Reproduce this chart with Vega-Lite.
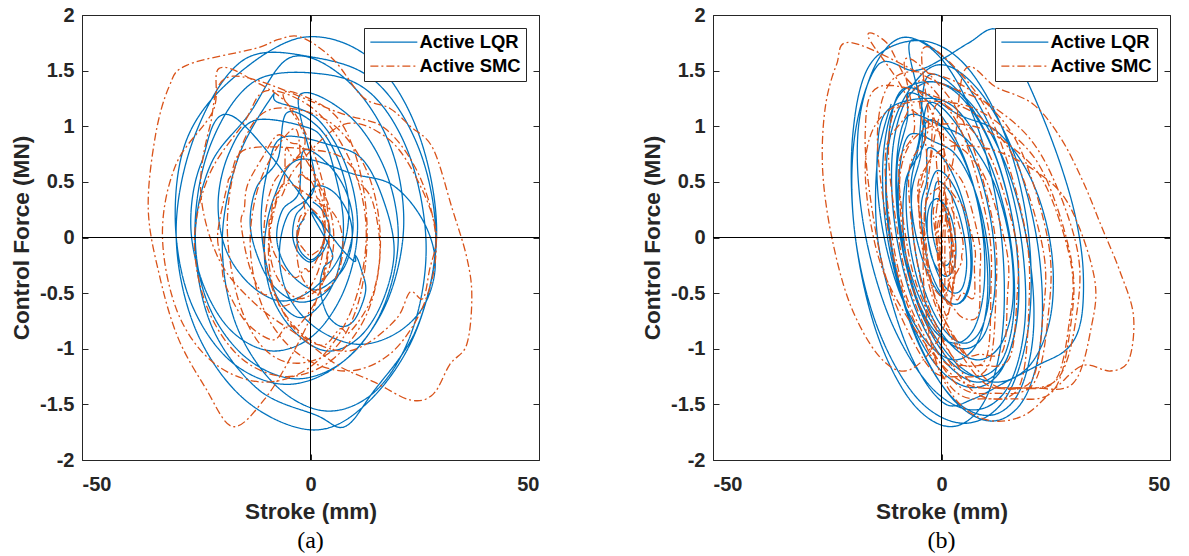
{
"$schema": "https://vega.github.io/schema/vega-lite/v6.json",
"background": "white",
"padding": {"left": 10, "top": 4, "right": 2, "bottom": 2},
"spacing": 101,
"config": {
  "view": {"stroke": "#262626", "strokeWidth": 1},
  "axis": {"labelFont": "Liberation Sans", "labelFontWeight": "bold", "labelFontSize": 20, "labelColor": "#262626", "titleFont": "Liberation Sans", "titleFontWeight": "bold", "titleFontSize": 22.6, "titleColor": "#262626", "grid": false, "domain": false, "tickColor": "#262626", "tickSize": -6, "labelPadding": 14}
},
"datasets": {
"a": [
{"s":"LQR","x":0.5,"y":0.32},{"s":"LQR","x":2.3,"y":0.26},{"s":"LQR","x":3.8,"y":0.15},{"s":"LQR","x":4.2,"y":0.03},{"s":"LQR","x":3.1,"y":-0.1},{"s":"LQR","x":1.6,"y":-0.18},{"s":"LQR","x":-0.3,"y":-0.22},{"s":"LQR","x":-2.4,"y":-0.15},{"s":"LQR","x":-3.6,"y":-0.05},{"s":"LQR","x":-3.9,"y":0.06},{"s":"LQR","x":-3.2,"y":0.2},{"s":"LQR","x":-1.6,"y":0.28},
{"s":"LQR","x":1.2,"y":0.46},{"s":"LQR","x":5.3,"y":0.4},{"s":"LQR","x":8.4,"y":0.2},{"s":"LQR","x":9.1,"y":-0.02},{"s":"LQR","x":7.6,"y":-0.25},{"s":"LQR","x":4.5,"y":-0.4},{"s":"LQR","x":0.8,"y":-0.47},{"s":"LQR","x":-3.3,"y":-0.37},{"s":"LQR","x":-6.2,"y":-0.2},{"s":"LQR","x":-7.4,"y":0.02},{"s":"LQR","x":-6.1,"y":0.25},{"s":"LQR","x":-2.6,"y":0.4},
{"s":"LQR","x":-1.5,"y":0.78},{"s":"LQR","x":3.8,"y":0.66},{"s":"LQR","x":7.9,"y":0.4},{"s":"LQR","x":9.3,"y":0.08},{"s":"LQR","x":7.2,"y":-0.25},{"s":"LQR","x":3.1,"y":-0.5},{"s":"LQR","x":-2.4,"y":-0.58},{"s":"LQR","x":-7.8,"y":-0.45},{"s":"LQR","x":-11.3,"y":-0.2},{"s":"LQR","x":-13.2,"y":0.12},{"s":"LQR","x":-11.8,"y":0.45},{"s":"LQR","x":-7.2,"y":0.7},
{"s":"LQR","x":-5.2,"y":1.12},{"s":"LQR","x":1.5,"y":1.0},{"s":"LQR","x":6.0,"y":0.7},{"s":"LQR","x":8.4,"y":0.28},{"s":"LQR","x":6.6,"y":-0.15},{"s":"LQR","x":0.6,"y":-0.46},{"s":"LQR","x":-6.4,"y":-0.57},{"s":"LQR","x":-13.3,"y":-0.42},{"s":"LQR","x":-18.6,"y":-0.1},{"s":"LQR","x":-20.2,"y":0.33},{"s":"LQR","x":-17.8,"y":0.76},{"s":"LQR","x":-12.4,"y":1.05},
{"s":"LQR","x":-1.6,"y":1.0},{"s":"LQR","x":2.8,"y":0.88},{"s":"LQR","x":5.5,"y":0.55},{"s":"LQR","x":7.2,"y":0.13},{"s":"LQR","x":6.0,"y":-0.3},{"s":"LQR","x":2.2,"y":-0.6},{"s":"LQR","x":-2.3,"y":-0.72},{"s":"LQR","x":-6.8,"y":-0.57},{"s":"LQR","x":-9.6,"y":-0.25},{"s":"LQR","x":-10.8,"y":0.17},{"s":"LQR","x":-9.4,"y":0.6},{"s":"LQR","x":-6.1,"y":0.9},
{"s":"LQR","x":4.5,"y":0.83},{"s":"LQR","x":11.4,"y":0.7},{"s":"LQR","x":16.0,"y":0.33},{"s":"LQR","x":18.3,"y":-0.12},{"s":"LQR","x":15.8,"y":-0.57},{"s":"LQR","x":10.6,"y":-0.9},{"s":"LQR","x":3.6,"y":-1.02},{"s":"LQR","x":-3.4,"y":-0.85},{"s":"LQR","x":-8.5,"y":-0.52},{"s":"LQR","x":-10.1,"y":-0.08},{"s":"LQR","x":-7.9,"y":0.37},{"s":"LQR","x":-2.6,"y":0.7},
{"s":"LQR","x":9.5,"y":0.57},{"s":"LQR","x":18.0,"y":0.47},{"s":"LQR","x":24.5,"y":0.16},{"s":"LQR","x":27.3,"y":-0.22},{"s":"LQR","x":25.0,"y":-0.6},{"s":"LQR","x":18.8,"y":-0.86},{"s":"LQR","x":10.4,"y":-0.96},{"s":"LQR","x":1.8,"y":-0.83},{"s":"LQR","x":-4.5,"y":-0.55},{"s":"LQR","x":-6.8,"y":-0.18},{"s":"LQR","x":-5.0,"y":0.2},{"s":"LQR","x":1.0,"y":0.48},
{"s":"LQR","x":-2.5,"y":1.27},{"s":"LQR","x":8.3,"y":1.1},{"s":"LQR","x":16.4,"y":0.6},{"s":"LQR","x":19.2,"y":-0.02},{"s":"LQR","x":15.7,"y":-0.65},{"s":"LQR","x":7.6,"y":-1.1},{"s":"LQR","x":-3.3,"y":-1.27},{"s":"LQR","x":-14.4,"y":-1.07},{"s":"LQR","x":-22.4,"y":-0.6},{"s":"LQR","x":-25.2,"y":0.03},{"s":"LQR","x":-21.8,"y":0.66},{"s":"LQR","x":-13.6,"y":1.1},
{"s":"LQR","x":-4.3,"y":1.62},{"s":"LQR","x":7.8,"y":1.42},{"s":"LQR","x":17.2,"y":0.85},{"s":"LQR","x":20.4,"y":0.12},{"s":"LQR","x":16.5,"y":-0.6},{"s":"LQR","x":7.0,"y":-1.12},{"s":"LQR","x":-5.4,"y":-1.32},{"s":"LQR","x":-17.8,"y":-1.1},{"s":"LQR","x":-26.5,"y":-0.55},{"s":"LQR","x":-29.6,"y":0.18},{"s":"LQR","x":-26.9,"y":0.9},{"s":"LQR","x":-17.0,"y":1.43},
{"s":"LQR","x":-1.5,"y":1.8},{"s":"LQR","x":13.4,"y":1.6},{"s":"LQR","x":23.5,"y":0.95},{"s":"LQR","x":27.6,"y":0.03},{"s":"LQR","x":23.0,"y":-0.85},{"s":"LQR","x":12.6,"y":-1.48},{"s":"LQR","x":0.5,"y":-1.73},{"s":"LQR","x":-14.6,"y":-1.45},{"s":"LQR","x":-25.4,"y":-0.8},{"s":"LQR","x":-29.4,"y":0.07},{"s":"LQR","x":-25.0,"y":0.95},{"s":"LQR","x":-14.5,"y":1.6},
{"s":"LQR","x":0.6,"y":1.62},{"s":"LQR","x":14.3,"y":1.4},{"s":"LQR","x":23.9,"y":0.78},{"s":"LQR","x":27.4,"y":-0.03},{"s":"LQR","x":23.2,"y":-0.82},{"s":"LQR","x":13.5,"y":-1.4},{"s":"LQR","x":7.5,"y":-1.7},{"s":"LQR","x":1.4,"y":-1.6},{"s":"LQR","x":-11.6,"y":-1.36},{"s":"LQR","x":-21.9,"y":-0.77},{"s":"LQR","x":-25.3,"y":0.03},{"s":"LQR","x":-22.0,"y":0.82},{"s":"LQR","x":-12.4,"y":1.4},
{"s":"LQR","x":2.5,"y":1.47},{"s":"LQR","x":13.6,"y":1.28},{"s":"LQR","x":21.8,"y":0.72},{"s":"LQR","x":25.3,"y":-0.07},{"s":"LQR","x":22.4,"y":-0.82},{"s":"LQR","x":14.5,"y":-1.37},{"s":"LQR","x":3.6,"y":-1.56},{"s":"LQR","x":-7.6,"y":-1.33},{"s":"LQR","x":-16.4,"y":-0.77},{"s":"LQR","x":-19.3,"y":-0.02},{"s":"LQR","x":-15.8,"y":0.72},{"s":"LQR","x":-8.4,"y":1.27},
{"s":"LQR","x":-7.4,"y":1.22},{"s":"LQR","x":1.4,"y":1.07},{"s":"LQR","x":7.9,"y":0.63},{"s":"LQR","x":10.3,"y":0.08},{"s":"LQR","x":7.4,"y":-0.47},{"s":"LQR","x":0.6,"y":-0.88},{"s":"LQR","x":-8.4,"y":-1.02},{"s":"LQR","x":-17.3,"y":-0.84},{"s":"LQR","x":-23.5,"y":-0.42},{"s":"LQR","x":-26.2,"y":0.12},{"s":"LQR","x":-23.9,"y":0.67},{"s":"LQR","x":-16.6,"y":1.08},
{"s":"LQR","x":7.2,"y":-0.12},{"s":"LQR","x":9.8,"y":-0.16},{"s":"LQR","x":11.2,"y":-0.3},{"s":"LQR","x":12.1,"y":-0.46},{"s":"LQR","x":11.0,"y":-0.63},{"s":"LQR","x":9.2,"y":-0.76},{"s":"LQR","x":6.8,"y":-0.8},{"s":"LQR","x":4.3,"y":-0.73},{"s":"LQR","x":2.8,"y":-0.6},{"s":"LQR","x":2.1,"y":-0.43},{"s":"LQR","x":2.9,"y":-0.27},{"s":"LQR","x":4.8,"y":-0.15},
{"s":"LQR","x":0.3,"y":0.21},{"s":"LQR","x":1.6,"y":0.17},{"s":"LQR","x":2.7,"y":0.1},{"s":"LQR","x":3.1,"y":0},{"s":"LQR","x":2.5,"y":-0.1},{"s":"LQR","x":1.4,"y":-0.17},{"s":"LQR","x":0,"y":-0.2},{"s":"LQR","x":-1.5,"y":-0.16},{"s":"LQR","x":-2.6,"y":-0.09},{"s":"LQR","x":-3,"y":0.01},{"s":"LQR","x":-2.4,"y":0.11},{"s":"LQR","x":-1.3,"y":0.17},
{"s":"SMC","x":0.2,"y":0.26},{"s":"SMC","x":1.7,"y":0.2},{"s":"SMC","x":2.8,"y":0.13},{"s":"SMC","x":3.2,"y":0.04},{"s":"SMC","x":2.4,"y":-0.08},{"s":"SMC","x":1.3,"y":-0.13},{"s":"SMC","x":-0.2,"y":-0.16},{"s":"SMC","x":-1.6,"y":-0.1},{"s":"SMC","x":-2.7,"y":-0.03},{"s":"SMC","x":-2.9,"y":0.08},{"s":"SMC","x":-2.2,"y":0.19},{"s":"SMC","x":-1.2,"y":0.24},
{"s":"SMC","x":-2.6,"y":0.55},{"s":"SMC","x":0.2,"y":0.5},{"s":"SMC","x":1.4,"y":0.36},{"s":"SMC","x":2.1,"y":0.32},{"s":"SMC","x":3.2,"y":0.08},{"s":"SMC","x":2.0,"y":-0.14},{"s":"SMC","x":-0.1,"y":-0.3},{"s":"SMC","x":-1.2,"y":-0.28},{"s":"SMC","x":-3.2,"y":-0.36},{"s":"SMC","x":-6.0,"y":-0.27},{"s":"SMC","x":-8.3,"y":-0.1},{"s":"SMC","x":-9.1,"y":0.12},{"s":"SMC","x":-8.6,"y":0.2},{"s":"SMC","x":-8.0,"y":0.35},{"s":"SMC","x":-5.8,"y":0.5},
{"s":"SMC","x":-5.4,"y":0.8},{"s":"SMC","x":-3.6,"y":0.7},{"s":"SMC","x":-1.4,"y":0.72},{"s":"SMC","x":1.8,"y":0.45},{"s":"SMC","x":3.2,"y":0.12},{"s":"SMC","x":2.0,"y":-0.26},{"s":"SMC","x":-1.2,"y":-0.5},{"s":"SMC","x":-6.3,"y":-0.62},{"s":"SMC","x":-8.0,"y":-0.5},{"s":"SMC","x":-10.6,"y":-0.5},{"s":"SMC","x":-13.5,"y":-0.24},{"s":"SMC","x":-15.2,"y":0.13},{"s":"SMC","x":-14.5,"y":0.25},{"s":"SMC","x":-13.8,"y":0.47},{"s":"SMC","x":-10.5,"y":0.72},
{"s":"SMC","x":-7.2,"y":0.92},{"s":"SMC","x":-4.2,"y":0.85},{"s":"SMC","x":-1.8,"y":0.8},{"s":"SMC","x":2.6,"y":0.42},{"s":"SMC","x":3.0,"y":0.3},{"s":"SMC","x":4.1,"y":-0.03},{"s":"SMC","x":2.2,"y":-0.47},{"s":"SMC","x":-2.3,"y":-0.78},{"s":"SMC","x":-5.3,"y":-0.8},{"s":"SMC","x":-8.3,"y":-0.92},{"s":"SMC","x":-14.1,"y":-0.76},{"s":"SMC","x":-18.6,"y":-0.43},{"s":"SMC","x":-19.5,"y":-0.2},{"s":"SMC","x":-20.3,"y":0.04},{"s":"SMC","x":-18.2,"y":0.47},{"s":"SMC","x":-17.5,"y":0.55},{"s":"SMC","x":-13.6,"y":0.8},
{"s":"SMC","x":3.5,"y":0.77},{"s":"SMC","x":9.2,"y":0.63},{"s":"SMC","x":10.3,"y":0.52},{"s":"SMC","x":13.6,"y":0.32},{"s":"SMC","x":15.2,"y":-0.12},{"s":"SMC","x":13.3,"y":-0.55},{"s":"SMC","x":8.6,"y":-0.85},{"s":"SMC","x":6.5,"y":-0.82},{"s":"SMC","x":2.6,"y":-0.97},{"s":"SMC","x":-3.3,"y":-0.83},{"s":"SMC","x":-7.8,"y":-0.5},{"s":"SMC","x":-9.2,"y":-0.08},{"s":"SMC","x":-7.4,"y":0.33},{"s":"SMC","x":-6.2,"y":0.38},{"s":"SMC","x":-2.8,"y":0.65},
{"s":"SMC","x":7.5,"y":1.02},{"s":"SMC","x":17.2,"y":0.88},{"s":"SMC","x":23.6,"y":0.5},{"s":"SMC","x":27.5,"y":0.05},{"s":"SMC","x":26,"y":-0.3},{"s":"SMC","x":24.6,"y":-0.55},{"s":"SMC","x":21.8,"y":-0.49},{"s":"SMC","x":19,"y":-0.72},{"s":"SMC","x":12.5,"y":-0.95},{"s":"SMC","x":6.6,"y":-1.02},{"s":"SMC","x":-1.5,"y":-0.88},{"s":"SMC","x":-7.8,"y":-0.52},{"s":"SMC","x":-10.2,"y":-0.02},{"s":"SMC","x":-8.2,"y":0.48},{"s":"SMC","x":-1.2,"y":0.85},
{"s":"SMC","x":-6,"y":1.28},{"s":"SMC","x":-0.8,"y":1.26},{"s":"SMC","x":6.4,"y":1.05},{"s":"SMC","x":10.8,"y":0.6},{"s":"SMC","x":12.4,"y":0.02},{"s":"SMC","x":10.5,"y":-0.58},{"s":"SMC","x":5.2,"y":-1.0},{"s":"SMC","x":-3.4,"y":-1.13},{"s":"SMC","x":-10.6,"y":-0.98},{"s":"SMC","x":-15.8,"y":-0.56},{"s":"SMC","x":-18.2,"y":0.07},{"s":"SMC","x":-16.4,"y":0.65},{"s":"SMC","x":-11.5,"y":1.08},
{"s":"SMC","x":-4.3,"y":1.16},{"s":"SMC","x":5.4,"y":1.0},{"s":"SMC","x":12.8,"y":0.55},{"s":"SMC","x":15.3,"y":-0.07},{"s":"SMC","x":12.5,"y":-0.67},{"s":"SMC","x":4.7,"y":-1.1},{"s":"SMC","x":-5.4,"y":-1.25},{"s":"SMC","x":-15.3,"y":-1.08},{"s":"SMC","x":-22.6,"y":-0.63},{"s":"SMC","x":-25.4,"y":-0.03},{"s":"SMC","x":-22.2,"y":0.56},{"s":"SMC","x":-14.6,"y":1.03},
{"s":"SMC","x":-9.5,"y":1.32},{"s":"SMC","x":1.4,"y":1.13},{"s":"SMC","x":9.3,"y":0.63},{"s":"SMC","x":12.2,"y":0.02},{"s":"SMC","x":9.0,"y":-0.65},{"s":"SMC","x":0.7,"y":-1.14},{"s":"SMC","x":-10.3,"y":-1.3},{"s":"SMC","x":-21.4,"y":-1.12},{"s":"SMC","x":-29.2,"y":-0.66},{"s":"SMC","x":-32.4,"y":0.03},{"s":"SMC","x":-29.4,"y":0.66},{"s":"SMC","x":-21.3,"y":1.14},
{"s":"SMC","x":-20,"y":1.52},{"s":"SMC","x":-12,"y":1.4},{"s":"SMC","x":-4,"y":1.15},{"s":"SMC","x":2,"y":0.6},{"s":"SMC","x":4,"y":0},{"s":"SMC","x":1,"y":-0.6},{"s":"SMC","x":-4,"y":-1.05},{"s":"SMC","x":-10,"y":-1.45},{"s":"SMC","x":-17,"y":-1.7},{"s":"SMC","x":-23,"y":-1.35},{"s":"SMC","x":-29,"y":-0.9},{"s":"SMC","x":-33,"y":-0.35},{"s":"SMC","x":-35.5,"y":0.25},{"s":"SMC","x":-34,"y":0.9},{"s":"SMC","x":-31,"y":1.35},{"s":"SMC","x":-27,"y":1.55},
{"s":"SMC","x":-12,"y":1.7},{"s":"SMC","x":-7,"y":1.78},{"s":"SMC","x":-2,"y":1.8},{"s":"SMC","x":5,"y":1.6},{"s":"SMC","x":11.5,"y":1.26},{"s":"SMC","x":17.4,"y":1.16},{"s":"SMC","x":21.8,"y":1.0},{"s":"SMC","x":26.8,"y":0.8},{"s":"SMC","x":31,"y":0.26},{"s":"SMC","x":34.2,"y":-0.18},{"s":"SMC","x":35.3,"y":-0.53},{"s":"SMC","x":34.2,"y":-0.96},{"s":"SMC","x":30.5,"y":-1.14},{"s":"SMC","x":26.8,"y":-1.41},{"s":"SMC","x":21.8,"y":-1.46},{"s":"SMC","x":14,"y":-1.3},{"s":"SMC","x":6,"y":-1.15},{"s":"SMC","x":-2,"y":-0.9},{"s":"SMC","x":-12,"y":-0.6},{"s":"SMC","x":-20,"y":-0.2},{"s":"SMC","x":-24,"y":0.4},{"s":"SMC","x":-22,"y":1.0},{"s":"SMC","x":-17,"y":1.45},
{"s":"SMC","x":6.4,"y":1.12},{"s":"SMC","x":16.6,"y":0.97},{"s":"SMC","x":24.2,"y":0.52},{"s":"SMC","x":27.5,"y":-0.07},{"s":"SMC","x":24.6,"y":-0.62},{"s":"SMC","x":17.3,"y":-1.05},{"s":"SMC","x":7.4,"y":-1.2},{"s":"SMC","x":-3.2,"y":-1.03},{"s":"SMC","x":-10.5,"y":-0.62},{"s":"SMC","x":-13.2,"y":-0.04},{"s":"SMC","x":-10.6,"y":0.55},{"s":"SMC","x":-3.5,"y":0.98},
{"s":"SMC","x":-1.7,"y":0.57},{"s":"SMC","x":1.6,"y":0.48},{"s":"SMC","x":4.2,"y":0.26},{"s":"SMC","x":5.1,"y":-0.02},{"s":"SMC","x":4.0,"y":-0.29},{"s":"SMC","x":1.4,"y":-0.47},{"s":"SMC","x":-2.3,"y":-0.55},{"s":"SMC","x":-5.6,"y":-0.46},{"s":"SMC","x":-8.3,"y":-0.26},{"s":"SMC","x":-9.1,"y":0.03},{"s":"SMC","x":-7.8,"y":0.3},{"s":"SMC","x":-5.2,"y":0.49},
{"s":"SMC","x":2.2,"y":0.3},{"s":"SMC","x":4.6,"y":0.24},{"s":"SMC","x":6.5,"y":0.1},{"s":"SMC","x":7.1,"y":-0.1},{"s":"SMC","x":6.2,"y":-0.3},{"s":"SMC","x":4.3,"y":-0.44},{"s":"SMC","x":1.8,"y":-0.5},{"s":"SMC","x":-0.6,"y":-0.44},{"s":"SMC","x":-2.4,"y":-0.3},{"s":"SMC","x":-3.0,"y":-0.1},{"s":"SMC","x":-2.3,"y":0.1},{"s":"SMC","x":-0.5,"y":0.25}
],
"b": [
{"s":"LQR","x":-1,"y":0.35},{"s":"LQR","x":0.6,"y":0.3},{"s":"LQR","x":2.1,"y":0.18},{"s":"LQR","x":3,"y":0},{"s":"LQR","x":3.1,"y":-0.18},{"s":"LQR","x":2.4,"y":-0.3},{"s":"LQR","x":1,"y":-0.35},{"s":"LQR","x":-0.6,"y":-0.3},{"s":"LQR","x":-2.1,"y":-0.18},{"s":"LQR","x":-3,"y":0},{"s":"LQR","x":-3.1,"y":0.18},{"s":"LQR","x":-2.4,"y":0.3},
{"s":"LQR","x":-1,"y":0.35},{"s":"LQR","x":0.1,"y":0.31},{"s":"LQR","x":1.2,"y":0.2},{"s":"LQR","x":2,"y":0.05},{"s":"LQR","x":2.2,"y":-0.1},{"s":"LQR","x":1.9,"y":-0.21},{"s":"LQR","x":1,"y":-0.25},{"s":"LQR","x":-0.1,"y":-0.21},{"s":"LQR","x":-1.2,"y":-0.1},{"s":"LQR","x":-2,"y":0.05},{"s":"LQR","x":-2.2,"y":0.2},{"s":"LQR","x":-1.9,"y":0.31},
{"s":"LQR","x":-1,"y":0.5},{"s":"LQR","x":1.3,"y":0.44},{"s":"LQR","x":3.5,"y":0.25},{"s":"LQR","x":5,"y":0},{"s":"LQR","x":5.5,"y":-0.25},{"s":"LQR","x":4.7,"y":-0.44},{"s":"LQR","x":3,"y":-0.5},{"s":"LQR","x":0.7,"y":-0.44},{"s":"LQR","x":-1.5,"y":-0.25},{"s":"LQR","x":-3,"y":0},{"s":"LQR","x":-3.5,"y":0.25},{"s":"LQR","x":-2.7,"y":0.44},
{"s":"LQR","x":-1,"y":0.6},{"s":"LQR","x":1.8,"y":0.52},{"s":"LQR","x":4.4,"y":0.3},{"s":"LQR","x":6,"y":0},{"s":"LQR","x":6.4,"y":-0.3},{"s":"LQR","x":5.2,"y":-0.52},{"s":"LQR","x":3,"y":-0.6},{"s":"LQR","x":0.2,"y":-0.52},{"s":"LQR","x":-2.4,"y":-0.3},{"s":"LQR","x":-4,"y":0},{"s":"LQR","x":-4.4,"y":0.3},{"s":"LQR","x":-3.2,"y":0.52},
{"s":"LQR","x":-3,"y":0.8},{"s":"LQR","x":0.4,"y":0.71},{"s":"LQR","x":3.7,"y":0.45},{"s":"LQR","x":6,"y":0.1},{"s":"LQR","x":6.7,"y":-0.25},{"s":"LQR","x":5.6,"y":-0.51},{"s":"LQR","x":3,"y":-0.6},{"s":"LQR","x":-0.4,"y":-0.51},{"s":"LQR","x":-3.7,"y":-0.25},{"s":"LQR","x":-6,"y":0.1},{"s":"LQR","x":-6.7,"y":0.45},{"s":"LQR","x":-5.6,"y":0.71},
{"s":"LQR","x":-3,"y":1.05},{"s":"LQR","x":1.9,"y":0.92},{"s":"LQR","x":6.3,"y":0.55},{"s":"LQR","x":9,"y":0.05},{"s":"LQR","x":9.3,"y":-0.45},{"s":"LQR","x":7.1,"y":-0.82},{"s":"LQR","x":3,"y":-0.95},{"s":"LQR","x":-1.9,"y":-0.82},{"s":"LQR","x":-6.3,"y":-0.45},{"s":"LQR","x":-9,"y":0.05},{"s":"LQR","x":-9.3,"y":0.55},{"s":"LQR","x":-7.1,"y":0.92},
{"s":"LQR","x":-1,"y":0.85},{"s":"LQR","x":3.4,"y":0.73},{"s":"LQR","x":7.5,"y":0.4},{"s":"LQR","x":10,"y":-0.05},{"s":"LQR","x":10.5,"y":-0.5},{"s":"LQR","x":8.6,"y":-0.83},{"s":"LQR","x":5,"y":-0.95},{"s":"LQR","x":0.6,"y":-0.83},{"s":"LQR","x":-3.5,"y":-0.5},{"s":"LQR","x":-6,"y":-0.05},{"s":"LQR","x":-6.5,"y":0.4},{"s":"LQR","x":-4.6,"y":0.73},
{"s":"LQR","x":-3,"y":1.2},{"s":"LQR","x":2.5,"y":1.06},{"s":"LQR","x":7.7,"y":0.65},{"s":"LQR","x":11,"y":0.1},{"s":"LQR","x":11.7,"y":-0.45},{"s":"LQR","x":9.5,"y":-0.86},{"s":"LQR","x":5,"y":-1.0},{"s":"LQR","x":-0.5,"y":-0.86},{"s":"LQR","x":-5.7,"y":-0.45},{"s":"LQR","x":-9,"y":0.1},{"s":"LQR","x":-9.7,"y":0.65},{"s":"LQR","x":-7.5,"y":1.06},
{"s":"LQR","x":-7,"y":1.3},{"s":"LQR","x":-0.9,"y":1.14},{"s":"LQR","x":5.1,"y":0.7},{"s":"LQR","x":9,"y":0.1},{"s":"LQR","x":10.1,"y":-0.5},{"s":"LQR","x":7.9,"y":-0.94},{"s":"LQR","x":3,"y":-1.1},{"s":"LQR","x":-3.2,"y":-0.94},{"s":"LQR","x":-9.1,"y":-0.5},{"s":"LQR","x":-13,"y":0.1},{"s":"LQR","x":-14.1,"y":0.7},{"s":"LQR","x":-11.9,"y":1.14},
{"s":"LQR","x":-2,"y":1.25},{"s":"LQR","x":4.7,"y":1.09},{"s":"LQR","x":10.9,"y":0.63},{"s":"LQR","x":15,"y":0},{"s":"LQR","x":15.9,"y":-0.63},{"s":"LQR","x":13.4,"y":-1.09},{"s":"LQR","x":8,"y":-1.25},{"s":"LQR","x":1.4,"y":-1.09},{"s":"LQR","x":-4.9,"y":-0.63},{"s":"LQR","x":-9,"y":0},{"s":"LQR","x":-9.9,"y":0.63},{"s":"LQR","x":-7.4,"y":1.09},
{"s":"LQR","x":0,"y":1.0},{"s":"LQR","x":6,"y":0.86},{"s":"LQR","x":11.6,"y":0.48},{"s":"LQR","x":15,"y":-0.05},{"s":"LQR","x":15.6,"y":-0.58},{"s":"LQR","x":13,"y":-0.96},{"s":"LQR","x":8,"y":-1.1},{"s":"LQR","x":2,"y":-0.96},{"s":"LQR","x":-3.6,"y":-0.58},{"s":"LQR","x":-7,"y":-0.05},{"s":"LQR","x":-7.6,"y":0.48},{"s":"LQR","x":-5,"y":0.86},
{"s":"LQR","x":-3,"y":1.45},{"s":"LQR","x":4.7,"y":1.27},{"s":"LQR","x":11.7,"y":0.75},{"s":"LQR","x":16,"y":0.05},{"s":"LQR","x":16.7,"y":-0.65},{"s":"LQR","x":13.4,"y":-1.17},{"s":"LQR","x":7,"y":-1.35},{"s":"LQR","x":-0.7,"y":-1.17},{"s":"LQR","x":-7.7,"y":-0.65},{"s":"LQR","x":-12,"y":0.05},{"s":"LQR","x":-12.7,"y":0.75},{"s":"LQR","x":-9.4,"y":1.27},
{"s":"LQR","x":-2,"y":1.4},{"s":"LQR","x":5.2,"y":1.22},{"s":"LQR","x":11.8,"y":0.73},{"s":"LQR","x":16,"y":0.05},{"s":"LQR","x":16.8,"y":-0.63},{"s":"LQR","x":13.9,"y":-1.12},{"s":"LQR","x":8,"y":-1.3},{"s":"LQR","x":0.9,"y":-1.12},{"s":"LQR","x":-5.8,"y":-0.63},{"s":"LQR","x":-10,"y":0.05},{"s":"LQR","x":-10.8,"y":0.73},{"s":"LQR","x":-7.9,"y":1.22},
{"s":"LQR","x":-2,"y":1.4},{"s":"LQR","x":6.3,"y":1.21},{"s":"LQR","x":14.1,"y":0.65},{"s":"LQR","x":19,"y":-0.1},{"s":"LQR","x":20.1,"y":-0.85},{"s":"LQR","x":16.7,"y":-1.41},{"s":"LQR","x":10,"y":-1.6},{"s":"LQR","x":1.7,"y":-1.41},{"s":"LQR","x":-6.1,"y":-0.85},{"s":"LQR","x":-11,"y":-0.1},{"s":"LQR","x":-12.1,"y":0.65},{"s":"LQR","x":-8.7,"y":1.21},
{"s":"LQR","x":-1,"y":1.55},{"s":"LQR","x":7.8,"y":1.34},{"s":"LQR","x":15.9,"y":0.75},{"s":"LQR","x":21,"y":-0.05},{"s":"LQR","x":21.9,"y":-0.85},{"s":"LQR","x":18.2,"y":-1.44},{"s":"LQR","x":11,"y":-1.65},{"s":"LQR","x":2.2,"y":-1.44},{"s":"LQR","x":-5.9,"y":-0.85},{"s":"LQR","x":-11,"y":-0.05},{"s":"LQR","x":-11.9,"y":0.75},{"s":"LQR","x":-8.2,"y":1.34},
{"s":"LQR","x":4,"y":1.1},{"s":"LQR","x":12.5,"y":0.94},{"s":"LQR","x":19.9,"y":0.5},{"s":"LQR","x":24,"y":-0.1},{"s":"LQR","x":23.9,"y":-0.7},{"s":"LQR","x":19.5,"y":-1.14},{"s":"LQR","x":12,"y":-1.3},{"s":"LQR","x":3.5,"y":-1.14},{"s":"LQR","x":-3.9,"y":-0.7},{"s":"LQR","x":-8,"y":-0.1},{"s":"LQR","x":-7.9,"y":0.5},{"s":"LQR","x":-3.5,"y":0.94},
{"s":"LQR","x":-7,"y":1.75},{"s":"LQR","x":2.4,"y":1.54},{"s":"LQR","x":11.3,"y":0.93},{"s":"LQR","x":17,"y":0.1},{"s":"LQR","x":18.3,"y":-0.73},{"s":"LQR","x":14.6,"y":-1.34},{"s":"LQR","x":7,"y":-1.55},{"s":"LQR","x":-2.4,"y":-1.34},{"s":"LQR","x":-11.3,"y":-0.73},{"s":"LQR","x":-17,"y":0.1},{"s":"LQR","x":-18.3,"y":0.93},{"s":"LQR","x":-14.6,"y":1.54},
{"s":"LQR","x":-8,"y":1.8},{"s":"LQR","x":0.7,"y":1.57},{"s":"LQR","x":8.4,"y":0.93},{"s":"LQR","x":13,"y":0.05},{"s":"LQR","x":13.4,"y":-0.83},{"s":"LQR","x":9.4,"y":-1.47},{"s":"LQR","x":2,"y":-1.7},{"s":"LQR","x":-6.7,"y":-1.47},{"s":"LQR","x":-14.4,"y":-0.83},{"s":"LQR","x":-19,"y":0.05},{"s":"LQR","x":-19.4,"y":0.93},{"s":"LQR","x":-15.4,"y":1.57},
{"s":"LQR","x":-5,"y":1.77},{"s":"LQR","x":5.2,"y":1.55},{"s":"LQR","x":14,"y":0.91},{"s":"LQR","x":19,"y":0.05},{"s":"LQR","x":19,"y":-0.81},{"s":"LQR","x":13.9,"y":-1.45},{"s":"LQR","x":5,"y":-1.67},{"s":"LQR","x":-5.2,"y":-1.45},{"s":"LQR","x":-14,"y":-0.81},{"s":"LQR","x":-19,"y":0.05},{"s":"LQR","x":-19,"y":0.91},{"s":"LQR","x":-13.9,"y":1.55},
{"s":"LQR","x":-6,"y":1.5},{"s":"LQR","x":0,"y":1.6},{"s":"LQR","x":6,"y":1.75},{"s":"LQR","x":12,"y":1.87},{"s":"LQR","x":17,"y":1.55},{"s":"LQR","x":22,"y":1.1},{"s":"LQR","x":26.5,"y":0.6},{"s":"LQR","x":29.5,"y":0.15},{"s":"LQR","x":31,"y":-0.3},{"s":"LQR","x":30.5,"y":-0.75},{"s":"LQR","x":27.5,"y":-1.0},{"s":"LQR","x":21,"y":-1.15},{"s":"LQR","x":14,"y":-1.3},{"s":"LQR","x":7,"y":-1.45},{"s":"LQR","x":1,"y":-1.5},{"s":"LQR","x":-5,"y":-1.2},{"s":"LQR","x":-10,"y":-0.7},{"s":"LQR","x":-14,"y":0},{"s":"LQR","x":-14,"y":0.7},{"s":"LQR","x":-11,"y":1.2},
{"s":"SMC","x":0,"y":0.3},{"s":"SMC","x":1.5,"y":0.2},{"s":"SMC","x":2.5,"y":-0.1},{"s":"SMC","x":1.8,"y":-0.4},{"s":"SMC","x":0.5,"y":-0.5},{"s":"SMC","x":-0.8,"y":-0.2},{"s":"SMC","x":-1.2,"y":0.2},{"s":"SMC","x":0.3,"y":0.45},{"s":"SMC","x":2,"y":0.1},{"s":"SMC","x":3,"y":-0.3},{"s":"SMC","x":1.5,"y":-0.6},{"s":"SMC","x":0,"y":-0.35},{"s":"SMC","x":-1,"y":0.05},{"s":"SMC","x":0.6,"y":0.25},{"s":"SMC","x":1.9,"y":-0.2},{"s":"SMC","x":0.8,"y":-0.55},
{"s":"SMC","x":1,"y":0.3},{"s":"SMC","x":2.6,"y":0.22},{"s":"SMC","x":3.4,"y":0.17},{"s":"SMC","x":4.7,"y":-0.04},{"s":"SMC","x":4.4,"y":-0.17},{"s":"SMC","x":4.4,"y":-0.22},{"s":"SMC","x":2.8,"y":-0.34},{"s":"SMC","x":1.9,"y":-0.22},{"s":"SMC","x":0.1,"y":-0.19},{"s":"SMC","x":-0.7,"y":0.05},{"s":"SMC","x":-0.4,"y":0.11},{"s":"SMC","x":0.2,"y":0.3},
{"s":"SMC","x":1,"y":0.45},{"s":"SMC","x":3.6,"y":0.33},{"s":"SMC","x":5.1,"y":0.24},{"s":"SMC","x":7.3,"y":-0.1},{"s":"SMC","x":7.2,"y":-0.26},{"s":"SMC","x":7.1,"y":-0.54},{"s":"SMC","x":4.6,"y":-0.5},{"s":"SMC","x":3.1,"y":-0.55},{"s":"SMC","x":0.3,"y":-0.25},{"s":"SMC","x":-0.8,"y":-0.1},{"s":"SMC","x":-1.8,"y":0.24},{"s":"SMC","x":-0.4,"y":0.35},
{"s":"SMC","x":-1,"y":0.75},{"s":"SMC","x":2.8,"y":0.6},{"s":"SMC","x":5.4,"y":0.42},{"s":"SMC","x":8.3,"y":-0.05},{"s":"SMC","x":8.4,"y":-0.34},{"s":"SMC","x":8,"y":-0.7},{"s":"SMC","x":4.6,"y":-0.72},{"s":"SMC","x":2,"y":-0.6},{"s":"SMC","x":-2,"y":-0.42},{"s":"SMC","x":-3.7,"y":0.05},{"s":"SMC","x":-5,"y":0.34},{"s":"SMC","x":-3.2,"y":0.7},
{"s":"SMC","x":-5,"y":1.4},{"s":"SMC","x":1.1,"y":1.18},{"s":"SMC","x":5.8,"y":0.8},{"s":"SMC","x":10.4,"y":0.05},{"s":"SMC","x":10.8,"y":-0.5},{"s":"SMC","x":9.8,"y":-1.08},{"s":"SMC","x":4.6,"y":-1.15},{"s":"SMC","x":-0.2,"y":-1.08},{"s":"SMC","x":-6.6,"y":-0.5},{"s":"SMC","x":-9.6,"y":0.05},{"s":"SMC","x":-11.6,"y":0.8},{"s":"SMC","x":-8.9,"y":1.18},
{"s":"SMC","x":1,"y":0.9},{"s":"SMC","x":6.5,"y":0.72},{"s":"SMC","x":10.4,"y":0.45},{"s":"SMC","x":14.4,"y":-0.15},{"s":"SMC","x":14.4,"y":-0.55},{"s":"SMC","x":13.4,"y":-1.02},{"s":"SMC","x":8.6,"y":-1.05},{"s":"SMC","x":4.4,"y":-1.02},{"s":"SMC","x":-1.2,"y":-0.55},{"s":"SMC","x":-3.6,"y":-0.15},{"s":"SMC","x":-5.2,"y":0.45},{"s":"SMC","x":-2.5,"y":0.72},
{"s":"SMC","x":-1,"y":1.2},{"s":"SMC","x":6.1,"y":0.99},{"s":"SMC","x":11.5,"y":0.65},{"s":"SMC","x":16.4,"y":-0.05},{"s":"SMC","x":16.5,"y":-0.55},{"s":"SMC","x":14.8,"y":-1.09},{"s":"SMC","x":8.6,"y":-1.15},{"s":"SMC","x":2.8,"y":-1.09},{"s":"SMC","x":-4.3,"y":-0.55},{"s":"SMC","x":-7.6,"y":-0.05},{"s":"SMC","x":-9.3,"y":0.65},{"s":"SMC","x":-5.9,"y":0.99},
{"s":"SMC","x":-8,"y":1.6},{"s":"SMC","x":-0.3,"y":1.36},{"s":"SMC","x":5.9,"y":0.93},{"s":"SMC","x":11.4,"y":0.1},{"s":"SMC","x":11.9,"y":-0.53},{"s":"SMC","x":10.2,"y":-1.16},{"s":"SMC","x":3.6,"y":-1.25},{"s":"SMC","x":-2.8,"y":-1.16},{"s":"SMC","x":-10.7,"y":-0.53},{"s":"SMC","x":-14.6,"y":0.1},{"s":"SMC","x":-16.7,"y":0.93},{"s":"SMC","x":-13.3,"y":1.36},
{"s":"SMC","x":3,"y":1.2},{"s":"SMC","x":11.1,"y":0.98},{"s":"SMC","x":17.2,"y":0.6},{"s":"SMC","x":22.4,"y":-0.15},{"s":"SMC","x":22.2,"y":-0.7},{"s":"SMC","x":19.8,"y":-1.28},{"s":"SMC","x":12.6,"y":-1.35},{"s":"SMC","x":5.8,"y":-1.28},{"s":"SMC","x":-2.1,"y":-0.7},{"s":"SMC","x":-5.6,"y":-0.15},{"s":"SMC","x":-7.1,"y":0.6},{"s":"SMC","x":-2.9,"y":0.98},
{"s":"SMC","x":-4,"y":1.7},{"s":"SMC","x":4.9,"y":1.44},{"s":"SMC","x":12.1,"y":0.95},{"s":"SMC","x":18.4,"y":0.05},{"s":"SMC","x":19.1,"y":-0.65},{"s":"SMC","x":17,"y":-1.34},{"s":"SMC","x":9.6,"y":-1.45},{"s":"SMC","x":2,"y":-1.34},{"s":"SMC","x":-7,"y":-0.65},{"s":"SMC","x":-11.6,"y":0.05},{"s":"SMC","x":-14,"y":0.95},{"s":"SMC","x":-10.2,"y":1.44},
{"s":"SMC","x":0,"y":1.45},{"s":"SMC","x":9.7,"y":1.21},{"s":"SMC","x":17.4,"y":0.78},{"s":"SMC","x":23.4,"y":-0.05},{"s":"SMC","x":23.4,"y":-0.68},{"s":"SMC","x":20.2,"y":-1.31},{"s":"SMC","x":11.6,"y":-1.4},{"s":"SMC","x":3.1,"y":-1.31},{"s":"SMC","x":-6.2,"y":-0.68},{"s":"SMC","x":-10.6,"y":-0.05},{"s":"SMC","x":-12.2,"y":0.78},{"s":"SMC","x":-7.3,"y":1.21},
{"s":"SMC","x":-16,"y":1.8},{"s":"SMC","x":-12,"y":1.75},{"s":"SMC","x":-8,"y":1.45},{"s":"SMC","x":-3,"y":1.2},{"s":"SMC","x":1,"y":0.7},{"s":"SMC","x":3,"y":0},{"s":"SMC","x":2,"y":-0.6},{"s":"SMC","x":-2,"y":-1.0},{"s":"SMC","x":-8,"y":-1.2},{"s":"SMC","x":-14,"y":-1.05},{"s":"SMC","x":-20,"y":-0.6},{"s":"SMC","x":-24,"y":0},{"s":"SMC","x":-26,"y":0.6},{"s":"SMC","x":-25.5,"y":1.15},{"s":"SMC","x":-23,"y":1.55},{"s":"SMC","x":-19.5,"y":1.75},
{"s":"SMC","x":-1,"y":1.4},{"s":"SMC","x":11.5,"y":1.17},{"s":"SMC","x":21.7,"y":0.75},{"s":"SMC","x":29.4,"y":-0.05},{"s":"SMC","x":29.7,"y":-0.65},{"s":"SMC","x":25.4,"y":-1.27},{"s":"SMC","x":14.6,"y":-1.35},{"s":"SMC","x":3.4,"y":-1.27},{"s":"SMC","x":-8.5,"y":-0.65},{"s":"SMC","x":-14.6,"y":-0.05},{"s":"SMC","x":-16.5,"y":0.75},{"s":"SMC","x":-10.5,"y":1.17},
{"s":"SMC","x":4,"y":1.2},{"s":"SMC","x":14.2,"y":0.97},{"s":"SMC","x":22.3,"y":0.58},{"s":"SMC","x":28.4,"y":-0.2},{"s":"SMC","x":28.3,"y":-0.78},{"s":"SMC","x":24.6,"y":-1.37},{"s":"SMC","x":15.6,"y":-1.45},{"s":"SMC","x":6.6,"y":-1.37},{"s":"SMC","x":-3,"y":-0.78},{"s":"SMC","x":-7.6,"y":-0.2},{"s":"SMC","x":-9,"y":0.58},{"s":"SMC","x":-3.8,"y":0.97},
{"s":"SMC","x":7,"y":1.0},{"s":"SMC","x":16.1,"y":0.79},{"s":"SMC","x":23,"y":0.45},{"s":"SMC","x":28.4,"y":-0.25},{"s":"SMC","x":28,"y":-0.75},{"s":"SMC","x":24.8,"y":-1.29},{"s":"SMC","x":16.6,"y":-1.35},{"s":"SMC","x":8.8,"y":-1.29},{"s":"SMC","x":0.2,"y":-0.75},{"s":"SMC","x":-3.6,"y":-0.25},{"s":"SMC","x":-4.8,"y":0.45},{"s":"SMC","x":0.1,"y":0.79},
{"s":"SMC","x":10,"y":0.8},{"s":"SMC","x":20.1,"y":0.61},{"s":"SMC","x":27.8,"y":0.3},{"s":"SMC","x":33.4,"y":-0.35},{"s":"SMC","x":32.8,"y":-0.8},{"s":"SMC","x":28.8,"y":-1.31},{"s":"SMC","x":19.6,"y":-1.35},{"s":"SMC","x":10.8,"y":-1.31},{"s":"SMC","x":1.5,"y":-0.8},{"s":"SMC","x":-2.6,"y":-0.35},{"s":"SMC","x":-3.5,"y":0.3},{"s":"SMC","x":2.1,"y":0.61},
{"s":"SMC","x":5,"y":1.5},{"s":"SMC","x":12,"y":1.35},{"s":"SMC","x":20,"y":1.2},{"s":"SMC","x":26,"y":0.9},{"s":"SMC","x":31,"y":0.5},{"s":"SMC","x":35,"y":0.1},{"s":"SMC","x":39,"y":-0.3},{"s":"SMC","x":42,"y":-0.7},{"s":"SMC","x":41,"y":-1.1},{"s":"SMC","x":37,"y":-1.2},{"s":"SMC","x":31,"y":-1.15},{"s":"SMC","x":25,"y":-1.35},{"s":"SMC","x":18,"y":-1.6},{"s":"SMC","x":10,"y":-1.64},{"s":"SMC","x":3,"y":-1.45},{"s":"SMC","x":-2,"y":-1.0},{"s":"SMC","x":-4,"y":-0.3},{"s":"SMC","x":-3,"y":0.5},{"s":"SMC","x":0,"y":1.1},
{"s":"SMC","x":1,"y":0.2},{"s":"SMC","x":2.2,"y":0},{"s":"SMC","x":1.5,"y":-0.3},{"s":"SMC","x":0.2,"y":-0.2},{"s":"SMC","x":0.5,"y":0.1},{"s":"SMC","x":1.8,"y":0.1},{"s":"SMC","x":2.5,"y":-0.4},{"s":"SMC","x":1,"y":-0.7},{"s":"SMC","x":-0.5,"y":-0.3},{"s":"SMC","x":0.5,"y":0.3}
]
},
"hconcat": [
{
  "width": 457, "height": 445,
  "title": {"text": "(a)", "orient": "bottom", "font": "Liberation Serif", "fontSize": 24, "fontWeight": "normal", "color": "black", "offset": 6},
  "layer": [
    {"data": {"name": "a"},
     "mark": {"type": "line", "strokeWidth": 1.3, "interpolate": "cardinal"},
     "encoding": {
       "x": {"field": "x", "type": "quantitative", "scale": {"domain": [-50, 50], "nice": false}, "axis": {"values": [-50, 0, 50], "title": "Stroke (mm)", "labelPadding": 20, "titlePadding": 6, "labelExpr": "'' + datum.value"}},
       "y": {"field": "y", "type": "quantitative", "scale": {"domain": [-2, 2], "nice": false}, "axis": {"values": [-2, -1.5, -1, -0.5, 0, 0.5, 1, 1.5, 2], "title": "Control Force (MN)", "titlePadding": 6, "labelExpr": "'' + datum.value"}},
       "color": {"field": "s", "type": "nominal", "scale": {"domain": ["LQR", "SMC"], "range": ["#0072BD", "#D95319"]},
         "legend": {"title": null, "orient": "top-right", "offset": 13, "labelExpr": "datum.label == 'LQR' ? 'Active LQR' : 'Active SMC'", "symbolType": "M-1,0H5", "symbolSize": 245, "symbolStrokeWidth": 1.3, "labelOffset": 32, "labelFont": "Liberation Sans", "labelFontWeight": "bold", "labelFontSize": 18.4, "labelColor": "black", "strokeColor": "#262626", "fillColor": "white", "padding": 5, "rowPadding": 5, "labelLimit": 300}},
       "strokeDash": {"field": "s", "type": "nominal", "scale": {"domain": ["LQR", "SMC"], "range": [[1, 0], [8, 3, 2, 3]]},
         "legend": {"title": null, "orient": "top-right", "offset": 13, "labelExpr": "datum.label == 'LQR' ? 'Active LQR' : 'Active SMC'", "symbolType": "M-1,0H5", "symbolSize": 245, "symbolStrokeWidth": 1.3, "labelOffset": 32, "labelFont": "Liberation Sans", "labelFontWeight": "bold", "labelFontSize": 18.4, "labelColor": "black", "strokeColor": "#262626", "fillColor": "white", "padding": 5, "rowPadding": 5, "labelLimit": 300}},
       "order": {"value": null}
     }},
    {"data": {"values": [{}]},
     "mark": {"type": "rule", "color": "black", "strokeWidth": 1},
     "encoding": {"y": {"datum": 0, "type": "quantitative", "scale": {"domain": [-2, 2], "nice": false}, "axis": {"orient": "right", "labels": false, "title": null, "values": [-2, -1.5, -1, -0.5, 0, 0.5, 1, 1.5, 2]}}}},
    {"data": {"values": [{}]},
     "mark": {"type": "rule", "color": "black", "strokeWidth": 1},
     "encoding": {"x": {"datum": 0, "type": "quantitative", "scale": {"domain": [-50, 50], "nice": false}, "axis": {"orient": "top", "labels": false, "title": null, "values": [-50, 0, 50]}}}}
  ],
  "resolve": {"scale": {"x": "independent", "y": "independent"}}
},
{
  "width": 457, "height": 445,
  "title": {"text": "(b)", "orient": "bottom", "font": "Liberation Serif", "fontSize": 24, "fontWeight": "normal", "color": "black", "offset": 6},
  "layer": [
    {"data": {"name": "b"},
     "mark": {"type": "line", "strokeWidth": 1.3, "interpolate": "cardinal"},
     "encoding": {
       "x": {"field": "x", "type": "quantitative", "scale": {"domain": [-50, 50], "nice": false}, "axis": {"values": [-50, 0, 50], "title": "Stroke (mm)", "labelPadding": 20, "titlePadding": 6, "labelExpr": "'' + datum.value"}},
       "y": {"field": "y", "type": "quantitative", "scale": {"domain": [-2, 2], "nice": false}, "axis": {"values": [-2, -1.5, -1, -0.5, 0, 0.5, 1, 1.5, 2], "title": "Control Force (MN)", "titlePadding": 6, "labelExpr": "'' + datum.value"}},
       "color": {"field": "s", "type": "nominal", "scale": {"domain": ["LQR", "SMC"], "range": ["#0072BD", "#D95319"]},
         "legend": {"title": null, "orient": "top-right", "offset": 13, "labelExpr": "datum.label == 'LQR' ? 'Active LQR' : 'Active SMC'", "symbolType": "M-1,0H5", "symbolSize": 245, "symbolStrokeWidth": 1.3, "labelOffset": 32, "labelFont": "Liberation Sans", "labelFontWeight": "bold", "labelFontSize": 18.4, "labelColor": "black", "strokeColor": "#262626", "fillColor": "white", "padding": 5, "rowPadding": 5, "labelLimit": 300}},
       "strokeDash": {"field": "s", "type": "nominal", "scale": {"domain": ["LQR", "SMC"], "range": [[1, 0], [8, 3, 2, 3]]},
         "legend": {"title": null, "orient": "top-right", "offset": 13, "labelExpr": "datum.label == 'LQR' ? 'Active LQR' : 'Active SMC'", "symbolType": "M-1,0H5", "symbolSize": 245, "symbolStrokeWidth": 1.3, "labelOffset": 32, "labelFont": "Liberation Sans", "labelFontWeight": "bold", "labelFontSize": 18.4, "labelColor": "black", "strokeColor": "#262626", "fillColor": "white", "padding": 5, "rowPadding": 5, "labelLimit": 300}},
       "order": {"value": null}
     }},
    {"data": {"values": [{}]},
     "mark": {"type": "rule", "color": "black", "strokeWidth": 1},
     "encoding": {"y": {"datum": 0, "type": "quantitative", "scale": {"domain": [-2, 2], "nice": false}, "axis": {"orient": "right", "labels": false, "title": null, "values": [-2, -1.5, -1, -0.5, 0, 0.5, 1, 1.5, 2]}}}},
    {"data": {"values": [{}]},
     "mark": {"type": "rule", "color": "black", "strokeWidth": 1},
     "encoding": {"x": {"datum": 0, "type": "quantitative", "scale": {"domain": [-50, 50], "nice": false}, "axis": {"orient": "top", "labels": false, "title": null, "values": [-50, 0, 50]}}}}
  ],
  "resolve": {"scale": {"x": "independent", "y": "independent"}}
}
],
"resolve": {"scale": {"color": "independent", "strokeDash": "independent"}, "legend": {"color": "independent", "strokeDash": "independent"}}
}
